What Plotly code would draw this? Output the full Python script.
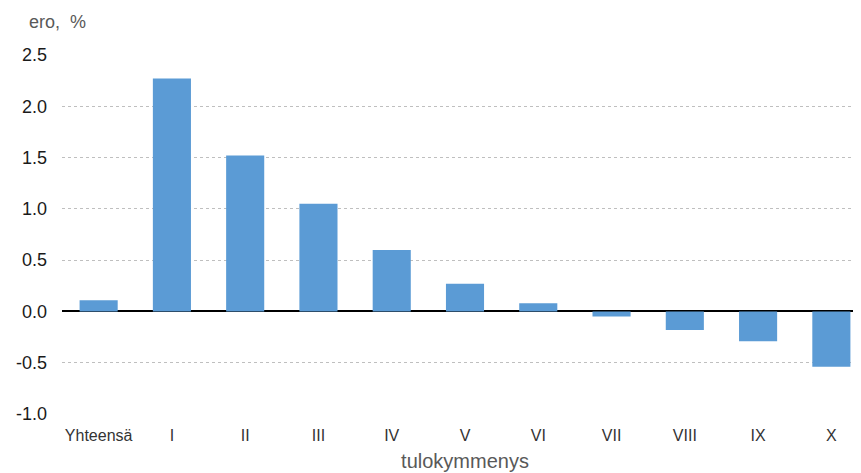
import plotly.graph_objects as go

categories = ["Yhteensä", "I", "II", "III", "IV", "V", "VI", "VII", "VIII", "IX", "X"]
values = [0.11, 2.27, 1.52, 1.05, 0.60, 0.27, 0.08, -0.05, -0.18, -0.29, -0.54]
y_ticks = [-1.0, -0.5, 0.0, 0.5, 1.0, 1.5, 2.0, 2.5]
y_ticklabels = [f"{v:.1f}" for v in y_ticks]

fig = go.Figure()
fig.add_trace(go.Bar(
    x=categories, y=values,
    marker=dict(color="#5B9BD5", line=dict(width=0)),
    width=0.52,
))

fig.update_layout(
    width=861, height=465,
    margin=dict(l=54, r=1, t=47, b=59),
    paper_bgcolor="white", plot_bgcolor="white",
    font=dict(family="Liberation Sans, Arial, sans-serif", color="#595959"),
    showlegend=False,
    xaxis=dict(
        showgrid=False, zeroline=False, showline=False, ticks="",
        tickfont=dict(size=16, color="#333333"), ticklabelstandoff=10,
        title=dict(text="tulokymmenys", font=dict(size=20, color="#595959"), standoff=10),
    ),
    yaxis=dict(
        range=[-1.0, 2.5], tickvals=y_ticks, ticktext=y_ticklabels,
        showgrid=True, gridcolor="#BFBFBF", griddash="dot", gridwidth=1,
        zeroline=True, zerolinecolor="#000000", zerolinewidth=1.5,
        ticks="", tickfont=dict(size=18, color="#1a1a1a"), ticklabelstandoff=14,
    ),
    annotations=[dict(
        text="ero,  %", xref="paper", yref="paper", x=-0.044, y=1.092,
        xanchor="left", yanchor="middle", showarrow=False,
        font=dict(size=18, color="#595959"),
    )],
)

fig.write_html("out.html")
